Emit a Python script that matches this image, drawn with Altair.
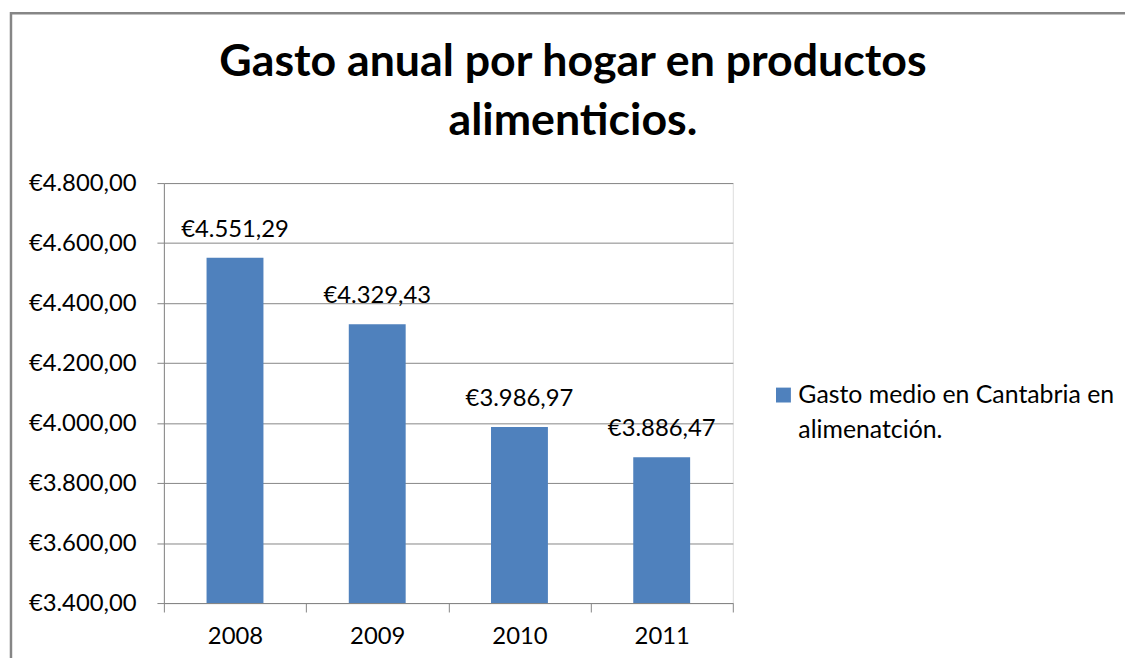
import altair as alt
import pandas as pd

years = ["2008", "2009", "2010", "2011"]
values = [4551.29, 4329.43, 3986.97, 3886.47]
series_lines = ["Gasto medio en Cantabria en", "alimenatción."]
title_lines = ["Gasto anual por hogar en productos", "alimenticios."]
y_ticks = [3400, 3600, 3800, 4000, 4200, 4400, 4600, 4800]

BLUE = "#4F81BD"
GREY = "#868686"
FONT = "Lato"

df = pd.DataFrame({"year": years, "value": values})

euro = "'€' + replace(replace(replace(format({v}, ',.2f'), ',', '#'), '.', ','), '#', '.')"

x = alt.X(
    "year:O",
    scale=alt.Scale(paddingInner=0, paddingOuter=0),
    axis=alt.Axis(
        title=None, labelAngle=0, tickBand="extent", tickSize=9, tickColor=GREY,
        domainColor=GREY, labelPadding=13, labelFontSize=24, labelFont=FONT,
        labelColor="black", grid=False,
    ),
)
y = alt.Y(
    "value:Q",
    scale=alt.Scale(domain=[3400, 4800], zero=False, nice=False),
    axis=alt.Axis(
        title=None, values=y_ticks, labelExpr=euro.format(v="datum.value"),
        tickSize=7, tickColor=GREY, domainColor=GREY, gridColor=GREY,
        labelPadding=21, labelFontSize=24, labelFont=FONT, labelColor="black",
    ),
)

bars = alt.Chart(df).mark_bar(color=BLUE, width=alt.RelativeBandSize(0.4), clip=True).encode(
    x=x, y=y, y2=alt.datum(3400)
)

labels = alt.Chart(df).transform_calculate(
    label=euro.format(v="datum.value")
).mark_text(font=FONT, fontSize=24, color="black", baseline="alphabetic", dy=-21).encode(
    x=alt.X("year:O"), y=alt.Y("value:Q"), text="label:N"
)

one = alt.Data(values=[{}])
frame = alt.Chart(one).mark_rect(fillOpacity=0, stroke=GREY, strokeWidth=2.5).encode(
    x=alt.value(-154), x2=alt.value(1000), y=alt.value(-171), y2=alt.value(600)
)
title = alt.Chart(one).mark_text(
    font=FONT, fontSize=45, fontWeight="bold", color="black", align="center",
    baseline="alphabetic", lineHeight=60
).encode(x=alt.value(412), y=alt.value(-108), text=alt.value(title_lines))
leg_sym = alt.Chart(one).mark_square(size=225, color=BLUE, opacity=1).encode(
    x=alt.value(624), y=alt.value(213.5)
)
leg_txt = alt.Chart(one).mark_text(
    font=FONT, fontSize=25, color="black", align="left", baseline="alphabetic", lineHeight=36
).encode(x=alt.value(639), y=alt.value(221), text=alt.value(series_lines))

chart = alt.layer(bars, labels, frame, title, leg_sym, leg_txt).properties(
    width=573,
    height=423,
    padding={"left": 157, "top": 174, "right": 395, "bottom": 53},
    autosize=alt.AutoSizeParams(type="none"),
).configure_view(stroke=None).configure(background="white")

chart.save("out.html", embed_options={"renderer": "svg", "actions": False})
